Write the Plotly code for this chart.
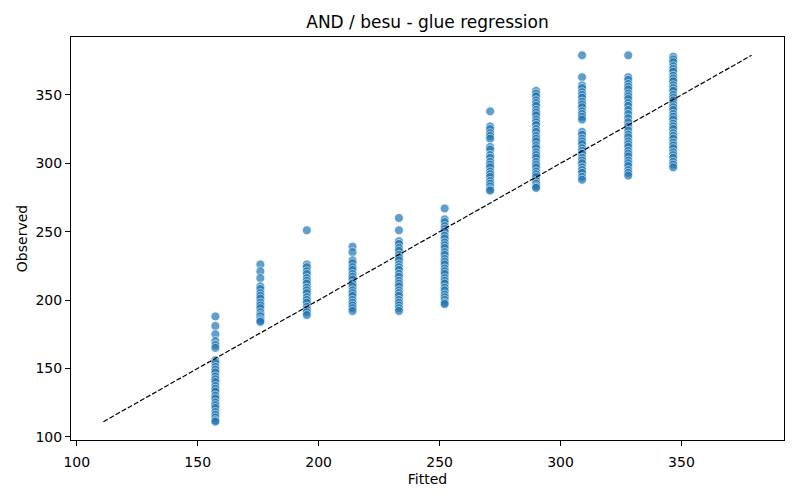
import plotly.graph_objects as go

# fitted level for each column of points
fitted = [157.3, 175.9, 195.1, 214.0, 233.2, 252.1, 270.9, 289.9, 308.9, 328.0, 346.6]

# observed values, one list per fitted level
obs_157 = [188, 181, 175, 170, 167, 165, 156, 154, 151, 149, 147, 144, 142, 140, 137,
           135, 133, 130, 128, 125, 123, 121, 118, 116, 114, 112, 111]
obs_176 = [226, 221, 216, 210, 208, 205, 203, 201, 198, 196, 194, 191, 189, 188, 186,
           185, 184]
obs_195 = [251, 226, 224, 221, 219, 216, 214, 212, 209, 207, 205, 202, 200, 198, 195,
           193, 191, 189]
obs_214 = [239, 235, 229, 227, 224, 222, 219, 217, 215, 212, 210, 207, 205, 203, 200,
           198, 196, 194, 192]
obs_233 = [260, 251, 243, 241, 238, 236, 233, 231, 229, 226, 224, 222, 219, 217, 214,
           212, 210, 207, 205, 203, 200, 198, 196, 194, 192]
obs_252 = [267, 259, 257, 254, 252, 250, 247, 245, 242, 240, 238, 235, 233, 230, 228,
           226, 223, 221, 219, 216, 214, 212, 209, 207, 204, 202, 200, 198, 197]
obs_271 = [338, 327, 325, 322, 320, 318, 312, 310, 306, 304, 301, 299, 297, 294, 292,
           290, 287, 285, 283, 281, 280]
obs_290 = [353, 351, 349, 346, 344, 342, 339, 337, 335, 332, 330, 328, 325, 323, 320,
           318, 316, 313, 311, 308, 306, 304, 301, 299, 297, 294, 292, 290, 287, 285,
           283, 282]
obs_309 = [379, 363, 357, 355, 352, 350, 348, 345, 343, 341, 338, 336, 334, 332, 323,
           321, 318, 316, 314, 311, 309, 307, 304, 302, 300, 297, 295, 293, 290, 288]
obs_328 = [379, 363, 361, 358, 356, 354, 351, 349, 347, 344, 342, 339, 336, 333, 330,
           327, 324, 321, 319, 316, 314, 312, 309, 307, 305, 302, 300, 298, 295, 293,
           291]
obs_347 = [378, 376, 374, 371, 369, 367, 364, 362, 360, 357, 355, 353, 350, 348, 346,
           343, 341, 339, 336, 334, 332, 329, 327, 325, 322, 320, 318, 315, 313, 311,
           308, 306, 304, 301, 299, 297]

observed = [obs_157, obs_176, obs_195, obs_214, obs_233, obs_252,
            obs_271, obs_290, obs_309, obs_328, obs_347]

xs = []
ys = []
for f, obs in zip(fitted, observed):
    xs += [f] * len(obs)
    ys += obs

lo = min(min(xs), min(ys))
hi = max(max(xs), max(ys))
pad = 0.05 * (hi - lo)
rng = [lo - pad, hi + pad]

fig = go.Figure()
fig.add_trace(go.Scatter(
    x=xs, y=ys, mode="markers",
    marker=dict(size=9, color="#1f77b4", opacity=0.7,
                line=dict(color="white", width=0.8)),
    showlegend=False,
))
fig.add_trace(go.Scatter(
    x=[lo, hi], y=[lo, hi], mode="lines",
    line=dict(color="black", width=1.2, dash="5px,2px"),
    showlegend=False,
))

axis_style = dict(
    showgrid=False, zeroline=False,
    showline=True, mirror=True, linecolor="black", linewidth=1,
    ticks="outside", ticklen=5, tickcolor="black", tickwidth=1,
    tickfont=dict(family="DejaVu Sans", size=14, color="black"),
    range=rng, dtick=50, tick0=100,
)

# the page body adds an 8px margin, so the figure is sized to fit inside it
fig.update_layout(
    width=784, height=484,
    margin=dict(l=63, r=7, t=29, b=50),
    plot_bgcolor="white", paper_bgcolor="white",
    font=dict(family="DejaVu Sans", color="black"),
    title=dict(text="AND / besu - glue regression", x=0.5, xref="paper",
               y=1 - 14 / 484, yref="container", yanchor="middle",
               font=dict(size=17, color="black")),
)
fig.update_xaxes(axis_style, ticklabelstandoff=4,
                 title=dict(text="Fitted", font=dict(size=14), standoff=5))
fig.update_yaxes(axis_style,
                 title=dict(text="Observed", font=dict(size=14), standoff=4))

fig.write_html("out.html")
